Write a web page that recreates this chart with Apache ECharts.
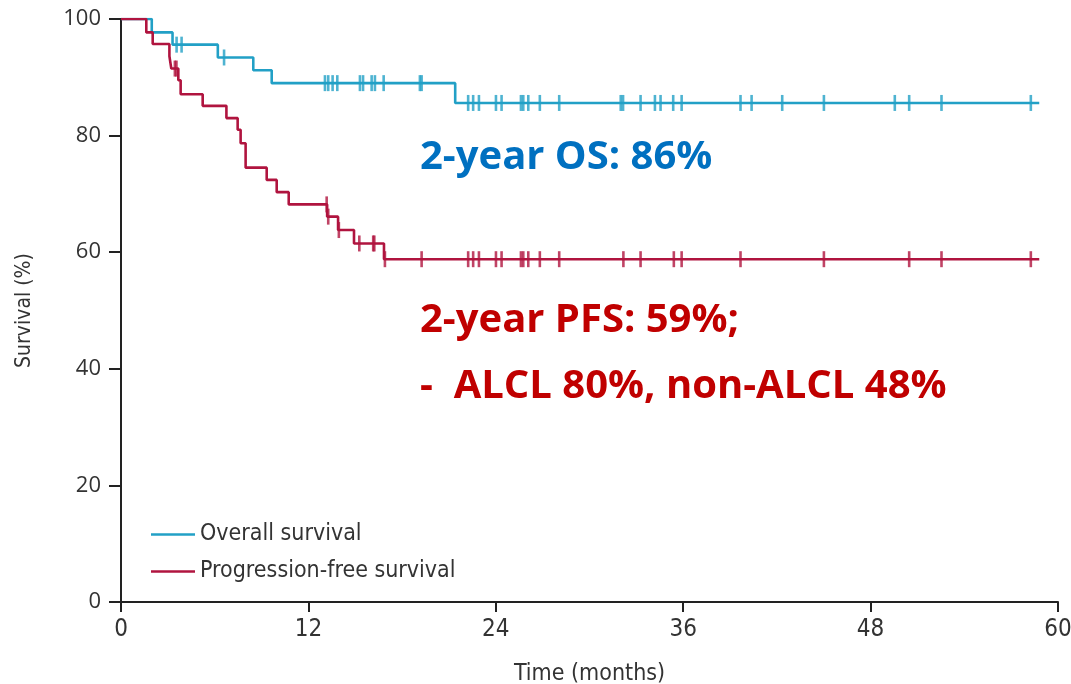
<!DOCTYPE html>
<html>
<head>
<meta charset="utf-8">
<script src="https://cdn.jsdelivr.net/npm/echarts@6/dist/echarts.min.js"></script>
<style>
  html, body { margin: 0; padding: 0; background: #fff; }
  #chart { width: 1071px; height: 684px; }
</style>
</head>
<body>
<div id="chart"></div>
<script>
// overall survival: step times (months) and survival (%)
var osTimes = [0, 1.97, 3.3, 6.2, 8.47, 9.65, 21.4, 58.8];
var osSurv = [100, 97.7, 95.6, 93.4, 91.2, 89.0, 85.6, 85.6];
// censored patients (months)
var osCensor = [3.56, 3.88, 6.6, 13.06, 13.27, 13.55, 13.85, 15.3, 15.5, 16.05, 16.26, 16.82,
    19.14, 19.25, 22.23, 22.55, 22.92, 24.01, 24.37, 25.61, 25.76, 26.08, 26.82, 28.06,
    32.0, 32.15, 33.27, 34.19, 34.55, 35.36, 35.9, 39.67, 40.38, 42.34, 45.01, 49.55,
    50.47, 52.54, 58.26];

// progression-free survival
var pfsTimes = [0, 1.62, 2.03, 3.1, 3.22, 3.67, 3.82, 5.23, 6.75, 7.47, 7.66, 7.98, 9.33,
    9.97, 10.74, 13.2, 13.9, 14.92, 16.84, 58.8];
var pfsSurv = [100, 97.7, 95.7, 93.6, 91.5, 89.5, 87.1, 85.1, 83.0, 81.0, 78.7, 74.5, 72.4,
    70.3, 68.2, 66.1, 63.8, 61.5, 58.8, 58.8];
var pfsCensor = [3.45, 3.55, 13.17, 13.27, 13.95, 15.26, 16.15, 16.22, 16.9, 19.25, 22.23,
    22.55, 22.92, 24.01, 24.37, 25.61, 25.76, 26.08, 26.82, 28.06, 32.17, 33.27, 35.4,
    35.9, 39.67, 45.01, 50.47, 52.54, 58.26];

var xTicks = [0, 12, 24, 36, 48, 60];
var yTicks = [0, 20, 40, 60, 80, 100];

var osColor = '#22a0c6';
var pfsColor = '#b0143f';
var narrow = "'Liberation Sans Narrow', 'DejaVu Sans Condensed', sans-serif";
var boldFont = "bold 40px 'Open Sans', sans-serif";

// value of the step curve at time t
function survAt(times, surv, t) {
    var v = surv[0];
    for (var i = 0; i < times.length; i++) {
        if (times[i] <= t) v = surv[i];
    }
    return v;
}
function pairs(times, surv) {
    return times.map(function (t, i) { return [t, surv[i]]; });
}
function censorPts(c, times, surv) {
    return c.map(function (t) { return [t, survAt(times, surv, t)]; });
}

var chart = echarts.init(document.getElementById('chart'));
chart.setOption({
    animation: false,
    grid: { left: 121, right: 13, top: 19, bottom: 82, outerBoundsMode: 'none' },
    legend: {
        left: 146,
        top: 518,
        orient: 'vertical',
        itemGap: 14,
        itemWidth: 44,
        itemHeight: 22,
        icon: 'path://M0,10h44v2.6h-44z',
        textStyle: { fontFamily: narrow, fontSize: 23, color: '#333' },
        data: ['Overall survival', 'Progression-free survival']
    },
    xAxis: {
        type: 'value',
        min: 0, max: 60, interval: 12,
        name: 'Time (months)',
        nameLocation: 'middle',
        nameGap: 61,
        nameTextStyle: { fontFamily: narrow, fontSize: 23, color: '#333' },
        axisLine: { lineStyle: { color: '#222', width: 2 } },
        axisTick: { length: 10, lineStyle: { color: '#222', width: 2 } },
        axisLabel: {
            fontFamily: narrow, fontSize: 24, color: '#333', margin: 16,
            formatter: function (v) { return xTicks.indexOf(v) >= 0 ? String(v) : ''; }
        },
        splitLine: { show: false }
    },
    yAxis: {
        type: 'value',
        min: 0, max: 100, interval: 20,
        name: 'Survival (%)',
        nameLocation: 'middle',
        nameGap: 86,
        nameTextStyle: { fontFamily: narrow, fontSize: 21, color: '#333' },
        axisLine: { show: true, lineStyle: { color: '#222', width: 2 } },
        axisTick: { show: true, length: 12, lineStyle: { color: '#222', width: 2 } },
        axisLabel: {
            fontFamily: "'Open Sans', sans-serif", fontSize: 22, color: '#333', margin: 20,
            formatter: function (v) { return yTicks.indexOf(v) >= 0 ? String(v) : ''; }
        },
        splitLine: { show: false }
    },
    series: [
        {
            name: 'Overall survival',
            type: 'line',
            step: 'end',
            showSymbol: false,
            color: osColor,
            lineStyle: { color: osColor, width: 2.6 },
            data: pairs(osTimes, osSurv),
            z: 3
        },
        {
            name: 'Progression-free survival',
            type: 'line',
            step: 'end',
            showSymbol: false,
            color: pfsColor,
            lineStyle: { color: pfsColor, width: 2.6 },
            data: pairs(pfsTimes, pfsSurv),
            z: 3
        },
        {
            name: 'os-censor',
            type: 'scatter',
            symbol: 'rect',
            symbolSize: [2.6, 16],
            itemStyle: { color: osColor },
            data: censorPts(osCensor, osTimes, osSurv),
            z: 4
        },
        {
            name: 'pfs-censor',
            type: 'scatter',
            symbol: 'rect',
            symbolSize: [2.6, 16],
            itemStyle: { color: pfsColor },
            data: censorPts(pfsCensor, pfsTimes, pfsSurv),
            z: 4
        }
    ],
    graphic: [
        {
            type: 'text', x: 420, y: 158,
            style: { text: '2-year OS: 86%', fill: '#0070c0', font: boldFont,
                verticalAlign: 'middle' }
        },
        {
            type: 'text', x: 420, y: 321,
            style: { text: '2-year PFS: 59%;', fill: '#c00000', font: boldFont,
                verticalAlign: 'middle' }
        },
        {
            type: 'text', x: 420, y: 387,
            style: { text: '-  ALCL 80%, non-ALCL 48%', fill: '#c00000', font: boldFont,
                verticalAlign: 'middle' }
        }
    ]
});
</script>
</body>
</html>
